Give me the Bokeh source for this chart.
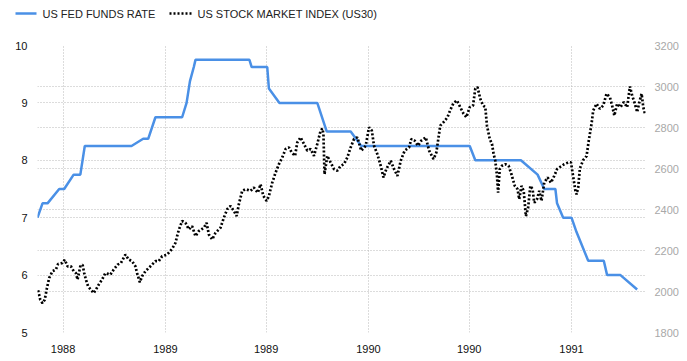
import pandas as pd
from bokeh.plotting import figure
from bokeh.layouts import column
from bokeh.core.properties import value
from bokeh.models import (Range1d, LinearAxis, FixedTicker, DatetimeTickFormatter, Grid)
from bokeh.embed import file_html
from bokeh.resources import INLINE

# ---------------- data ----------------
fed_dates = ["1988-05-16", "1988-05-25", "1988-06-03", "1988-06-24", "1988-07-03",
             "1988-07-20", "1988-08-01", "1988-08-09", "1988-11-01", "1988-11-22",
             "1988-12-01", "1988-12-14", "1989-01-31", "1989-02-08", "1989-02-14",
             "1989-02-21", "1989-02-24", "1989-06-01", "1989-06-05", "1989-07-03",
             "1989-07-06", "1989-07-25", "1989-10-01", "1989-10-18", "1989-11-30",
             "1989-12-19", "1990-07-02", "1990-07-12", "1990-10-02", "1990-11-01",
             "1990-11-13", "1990-12-03", "1990-12-06", "1990-12-17", "1991-01-01",
             "1991-01-10", "1991-01-31", "1991-02-28", "1991-03-06", "1991-03-30",
             "1991-04-29"]
fed_rate = [7.0, 7.25, 7.25, 7.5, 7.5,
            7.75, 7.75, 8.25, 8.25, 8.375,
            8.375, 8.75, 8.75, 9.0, 9.375,
            9.625, 9.75, 9.75, 9.625, 9.625,
            9.25, 9.0, 9.0, 8.5, 8.5,
            8.25, 8.25, 8.0, 8.0, 7.75,
            7.5, 7.5, 7.25, 7.0, 7.0,
            6.75, 6.25, 6.25, 6.0, 6.0,
            5.75]

stock_dates = [
    "1988-05-17", "1988-05-21", "1988-05-25", "1988-05-29", "1988-06-02", "1988-06-06",
    "1988-06-12", "1988-06-18", "1988-06-22", "1988-06-30", "1988-07-04", "1988-07-09",
    "1988-07-15", "1988-07-20", "1988-07-24", "1988-07-27", "1988-08-01", "1988-08-05",
    "1988-08-08", "1988-08-11", "1988-08-15", "1988-08-20", "1988-08-25", "1988-08-29",
    "1988-09-03", "1988-09-09", "1988-09-15", "1988-09-24", "1988-09-30", "1988-10-07",
    "1988-10-13", "1988-10-21", "1988-10-27", "1988-11-02", "1988-11-08", "1988-11-11",
    "1988-11-16", "1988-11-20", "1988-11-26", "1988-12-05", "1988-12-14", "1988-12-20",
    "1988-12-26", "1989-01-04", "1989-01-13", "1989-01-19", "1989-01-22", "1989-01-25",
    "1989-01-31", "1989-02-06", "1989-02-12", "1989-02-18", "1989-02-24", "1989-03-02",
    "1989-03-11", "1989-03-16", "1989-03-20", "1989-03-26", "1989-04-01", "1989-04-10",
    "1989-04-16", "1989-04-22", "1989-04-28", "1989-05-04", "1989-05-09", "1989-05-13",
    "1989-05-19", "1989-05-25", "1989-06-03", "1989-06-09", "1989-06-16", "1989-06-21",
    "1989-06-26", "1989-07-02", "1989-07-06", "1989-07-12", "1989-07-18", "1989-07-24",
    "1989-07-30", "1989-08-05", "1989-08-11", "1989-08-16", "1989-08-22", "1989-08-26",
    "1989-09-01", "1989-09-07", "1989-09-13", "1989-09-19", "1989-09-25", "1989-10-01",
    "1989-10-07", "1989-10-10", "1989-10-12", "1989-10-14", "1989-10-19", "1989-10-25",
    "1989-10-31", "1989-11-06", "1989-11-12", "1989-11-18", "1989-11-24", "1989-11-30",
    "1989-12-06", "1989-12-12", "1989-12-19", "1989-12-27", "1990-01-02", "1990-01-07",
    "1990-01-11", "1990-01-17", "1990-01-23", "1990-01-28", "1990-02-02", "1990-02-10",
    "1990-02-16", "1990-02-22", "1990-02-28", "1990-03-07", "1990-03-15", "1990-03-19",
    "1990-03-25", "1990-03-31", "1990-04-06", "1990-04-14", "1990-04-20", "1990-04-28",
    "1990-05-03", "1990-05-10", "1990-05-16", "1990-05-23", "1990-05-28", "1990-06-03",
    "1990-06-09", "1990-06-15", "1990-06-21", "1990-06-26", "1990-07-02", "1990-07-08",
    "1990-07-12", "1990-07-16", "1990-07-21", "1990-07-26", "1990-07-30", "1990-08-02",
    "1990-08-07", "1990-08-11", "1990-08-14", "1990-08-17", "1990-08-20", "1990-08-22",
    "1990-08-25", "1990-08-29", "1990-09-04", "1990-09-10", "1990-09-15", "1990-09-21",
    "1990-09-26", "1990-09-29", "1990-10-03", "1990-10-07", "1990-10-11", "1990-10-15",
    "1990-10-19", "1990-10-23", "1990-10-26", "1990-10-31", "1990-11-04", "1990-11-08",
    "1990-11-13", "1990-11-19", "1990-11-25", "1990-12-01", "1990-12-06", "1990-12-13",
    "1990-12-19", "1990-12-26", "1990-12-31", "1991-01-04", "1991-01-08", "1991-01-10",
    "1991-01-13", "1991-01-16", "1991-01-22", "1991-01-28", "1991-02-01", "1991-02-06",
    "1991-02-09", "1991-02-15", "1991-02-21", "1991-02-27", "1991-03-05", "1991-03-11",
    "1991-03-15", "1991-03-19", "1991-03-24", "1991-03-30", "1991-04-05", "1991-04-11",
    "1991-04-16", "1991-04-20", "1991-04-24", "1991-04-29", "1991-05-03", "1991-05-07",
    "1991-05-10", "1991-05-13"]
stock_values = [
    2006, 1960, 1943, 1960, 2017, 2066,
    2099, 2107, 2134, 2139, 2155, 2123,
    2123, 2099, 2090, 2058, 2123, 2131,
    2090, 2058, 2025, 2009, 1992, 2009,
    2033, 2058, 2090, 2082, 2107, 2131,
    2139, 2180, 2156, 2148, 2123, 2090,
    2045, 2074, 2099, 2123, 2148, 2148,
    2172, 2180, 2208, 2237, 2270, 2300,
    2344, 2335, 2303, 2319, 2270, 2295,
    2311, 2335, 2278, 2254, 2286, 2311,
    2360, 2401, 2417, 2393, 2368, 2426,
    2491, 2499, 2491, 2507, 2482, 2523,
    2466, 2442, 2466, 2531, 2580, 2621,
    2654, 2695, 2703, 2678, 2662, 2727,
    2752, 2720, 2687, 2695, 2662, 2720,
    2785, 2795, 2770, 2572, 2662, 2629,
    2597, 2589, 2613, 2621, 2654, 2703,
    2744, 2752, 2687, 2711, 2801, 2785,
    2711, 2670, 2613, 2556, 2597, 2638,
    2597, 2564, 2638, 2687, 2703, 2744,
    2736, 2711, 2736, 2752, 2687, 2646,
    2678, 2809, 2826, 2850, 2885, 2920,
    2932, 2899, 2867, 2850, 2899, 2907,
    2989, 2997, 2940, 2907, 2899, 2809,
    2744, 2720, 2670, 2638, 2564, 2482,
    2597, 2613, 2621, 2613, 2572, 2515,
    2499, 2450, 2515, 2491, 2368, 2409,
    2515, 2499, 2433, 2450, 2491, 2442,
    2531, 2556, 2531, 2564, 2597, 2610,
    2621, 2629, 2630, 2560, 2491, 2474,
    2507, 2600, 2641, 2660, 2736, 2818,
    2883, 2916, 2891, 2907, 2965, 2948,
    2907, 2858, 2916, 2899, 2924, 2899,
    3000, 2956, 2924, 2875, 2924, 2965,
    2899, 2867]

series_names = ["US FED FUNDS RATE", "US STOCK MARKET INDEX (US30)"]
x_start, x_end = "1988-05-16", "1991-05-14"
date_ticks = ["1988-07-01", "1989-01-01", "1989-07-01", "1990-01-01", "1990-07-01", "1991-01-01"]
rate_ticks = [5, 6, 7, 8, 9, 10]
index_ticks = [1800, 2000, 2200, 2400, 2600, 2800, 3000, 3200]

FONT = "Liberation Sans"
BLUE = "#4a90e6"
fed_style = dict(line_color=BLUE, line_width=2.5)
stk_style = dict(line_color="black", line_width=2.7, line_dash="2 2")

# ---------------- legend strip (pixel layout) ----------------
W, LH = 687, 30
lg = figure(width=W, height=LH, x_range=Range1d(0, W), y_range=Range1d(LH, 0),
            x_axis_location=None, y_axis_location=None,
            output_backend="svg", toolbar_location=None,
            min_border_left=0, min_border_right=0, min_border_top=0, min_border_bottom=0)
lg.frame_align = False
lg.grid.visible = False
lg.outline_line_color = None
key_x = [(15, 36, 42), (169, 191, 197)]
key_y = 13
for (x0, x1, tx), name, style in zip(key_x, series_names, [fed_style, stk_style]):
    lg.line([x0, x1], [key_y, key_y], **style)
    lg.text(x=[tx], y=[key_y + 0.5], text=[name], text_font=value(FONT),
            text_font_size="11px", text_baseline="middle", text_align="left",
            text_color="#222222")

# ---------------- main chart ----------------
p = figure(width=W, height=328, x_axis_type="datetime",
           x_range=Range1d(pd.Timestamp(x_start), pd.Timestamp(x_end)),
           y_range=Range1d(rate_ticks[0], rate_ticks[-1]),
           output_backend="svg", toolbar_location=None,
           min_border_left=37, min_border_right=42, min_border_top=15, min_border_bottom=26)
p.frame_align = False
p.outline_line_color = None
p.background_fill_color = "white"
p.extra_y_ranges = {"idx": Range1d(index_ticks[0], index_ticks[-1])}

grid_kw = dict(grid_line_color="#b8b8b8", grid_line_dash="1 2", grid_line_width=1)
p.xgrid.ticker = FixedTicker(ticks=[pd.Timestamp(d).value / 1e6 for d in date_ticks])
p.ygrid.ticker = FixedTicker(ticks=rate_ticks)
for g in (p.xgrid, p.ygrid):
    for k, v in grid_kw.items():
        setattr(g, k, v)

p.xaxis.ticker = FixedTicker(ticks=[pd.Timestamp(d).value / 1e6 for d in date_ticks])
p.xaxis.formatter = DatetimeTickFormatter(years="%Y", months="%Y", days="%Y", hours="%Y")
p.yaxis.ticker = FixedTicker(ticks=rate_ticks)

right = LinearAxis(y_range_name="idx", ticker=FixedTicker(ticks=index_ticks))
p.add_layout(right, "right")
g2 = Grid(dimension=1, ticker=FixedTicker(ticks=index_ticks), y_range_name="idx", **grid_kw)
p.add_layout(g2)

for ax in (p.xaxis[0], p.yaxis[0], right):
    ax.axis_line_color = None
    ax.major_tick_line_color = None
    ax.minor_tick_line_color = None
    ax.major_label_text_font = FONT
    ax.major_label_text_font_size = "11px"
    ax.major_label_text_color = "#111111"
p.yaxis[0].major_label_standoff = 4
p.xaxis[0].major_label_standoff = 6
right.major_label_text_color = "#a8a8a8"
right.major_label_standoff = 3

p.line([pd.Timestamp(d) for d in fed_dates], fed_rate, **fed_style)
p.line([pd.Timestamp(d) for d in stock_dates], stock_values, y_range_name="idx", **stk_style)

layout = column(lg, p, spacing=0)
open("out.html", "w").write(file_html(layout, INLINE))
